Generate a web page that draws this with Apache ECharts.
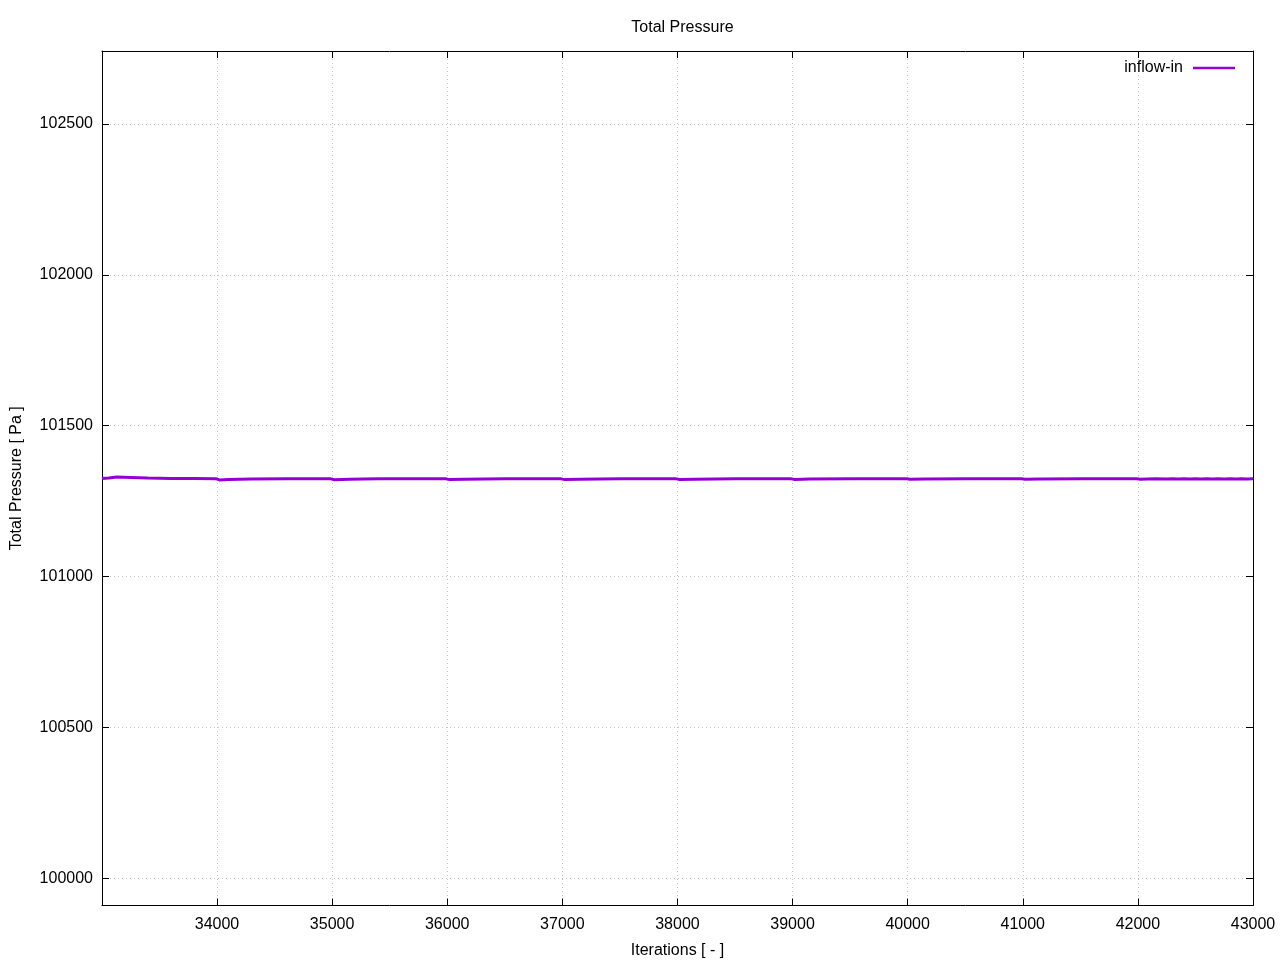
<!DOCTYPE html>
<html>
<head>
<meta charset="utf-8">
<script src="https://cdn.jsdelivr.net/npm/echarts@6/dist/echarts.min.js"></script>
<style>
html,body{margin:0;padding:0;background:#fff;}
#chart{width:1280px;height:960px;}
</style>
</head>
<body>
<div id="chart"></div>
<script>
const titleText = 'Total Pressure';
const xAxisName = 'Iterations [ - ]';
const yAxisName = 'Total Pressure [ Pa ]';
const seriesName = 'inflow-in';
const xTicks = [34000, 35000, 36000, 37000, 38000, 39000, 40000, 41000, 42000, 43000];
const yTicks = [100000, 100500, 101000, 101500, 102000, 102500];
const xRange = [33001, 43000];
const yRange = [99910, 102742];
const iterations = [33001, 33060, 33130, 33250, 33400, 33600, 33800, 33990, 34020, 34100, 34300, 34600, 34990,
  35020, 35150, 35400, 35990, 36020, 36150, 36500, 36990, 37020, 37150, 37500, 37990, 38020, 38150, 38500, 38990,
  39020, 39150, 39500, 39990, 40020, 40150, 40500, 40990, 41020, 41150, 41500, 41990, 42020, 42150, 42250, 42300,
  42350, 42400, 42450, 42500, 42550, 42600, 42650, 42700, 42750, 42800, 42850, 42900, 42950, 43000];
const pressure = [101325, 101327, 101330, 101328.5, 101326.5, 101325.5, 101325, 101324.5, 101320.5, 101322, 101323.5, 101324, 101324,
  101321, 101322.5, 101324, 101324, 101321.5, 101323, 101324, 101324, 101321.5, 101323, 101324, 101324, 101322, 101323, 101324, 101324,
  101322, 101323.5, 101324, 101324, 101322.5, 101323.5, 101324, 101324, 101322.5, 101323.5, 101324, 101324, 101323, 101324, 101323.5, 101324.5,
  101323.5, 101324.5, 101323.5, 101324.5, 101323.5, 101324.5, 101323.5, 101324.5, 101323.5, 101324.5, 101323.5, 101324.5, 101323.5, 101324];

const font = 'Liberation Sans, Arial, sans-serif';
const fs = 16;
const data = iterations.map((x, i) => [x, pressure[i]]);

const chart = echarts.init(document.getElementById('chart'), null, {renderer: 'canvas'});
const axisLineStyle = {show: true, lineStyle: {color: '#000', width: 1}};
const gridLine = {show: true, lineStyle: {color: '#c4c4c4', width: 1, type: [1, 3]}};
const fmt = v => String(v);

chart.setOption({
  animation: false,
  backgroundColor: '#fff',
  title: {
    text: titleText, left: 677.5, top: 15, textAlign: 'center',
    textStyle: {fontFamily: font, fontSize: fs, fontWeight: 'normal', color: '#000'}
  },
  legend: {
    right: 45, top: 60, padding: 0, align: 'right', itemWidth: 42, itemHeight: 14,
    icon: 'path://M0,6 L42,6 L42,8.6 L0,8.6 Z',
    textStyle: {fontFamily: font, fontSize: fs, color: '#000', padding: [2, 5, 0, 0]},
    data: [{name: seriesName, icon: 'path://M0,6 L42,6 L42,8.6 L0,8.6 Z'}]
  },
  grid: {left: 102, right: 27, top: 51, bottom: 54.5, containLabel: false, outerBoundsMode: 'none'},
  xAxis: [{
    type: 'value', min: xRange[0], max: xRange[1], position: 'bottom',
    name: xAxisName, nameLocation: 'middle', nameGap: 37,
    nameTextStyle: {fontFamily: font, fontSize: fs, color: '#000'},
    axisLine: axisLineStyle,
    axisTick: {show: true, inside: true, length: 7, customValues: xTicks, lineStyle: {color: '#000'}},
    axisLabel: {show: true, customValues: xTicks, formatter: fmt, margin: 11, fontFamily: font, fontSize: fs, color: '#000'},
    splitLine: gridLine
  }, {
    type: 'value', min: xRange[0], max: xRange[1], position: 'top',
    axisLine: axisLineStyle,
    axisTick: {show: true, inside: true, length: 7, customValues: xTicks, lineStyle: {color: '#000'}},
    axisLabel: {show: false, customValues: xTicks},
    splitLine: {show: false}
  }],
  yAxis: [{
    type: 'value', min: yRange[0], max: yRange[1], position: 'left',
    name: yAxisName, nameLocation: 'middle', nameGap: 77,
    nameTextStyle: {fontFamily: font, fontSize: fs, color: '#000'},
    axisLine: axisLineStyle,
    axisTick: {show: true, inside: true, length: 7, customValues: yTicks, lineStyle: {color: '#000'}},
    axisLabel: {show: true, customValues: yTicks, formatter: fmt, margin: 9, fontFamily: font, fontSize: fs, color: '#000'},
    splitLine: gridLine
  }, {
    type: 'value', min: yRange[0], max: yRange[1], position: 'right',
    axisLine: axisLineStyle,
    axisTick: {show: true, inside: true, length: 7, customValues: yTicks, lineStyle: {color: '#000'}},
    axisLabel: {show: false, customValues: yTicks},
    splitLine: {show: false}
  }],
  series: [{
    name: seriesName, type: 'line', data: data, xAxisIndex: 0, yAxisIndex: 0,
    showSymbol: false, symbol: 'none', smooth: false,
    lineStyle: {color: '#9400d3', width: 3}, itemStyle: {color: '#9400d3'}
  }]
});
</script>
</body>
</html>
